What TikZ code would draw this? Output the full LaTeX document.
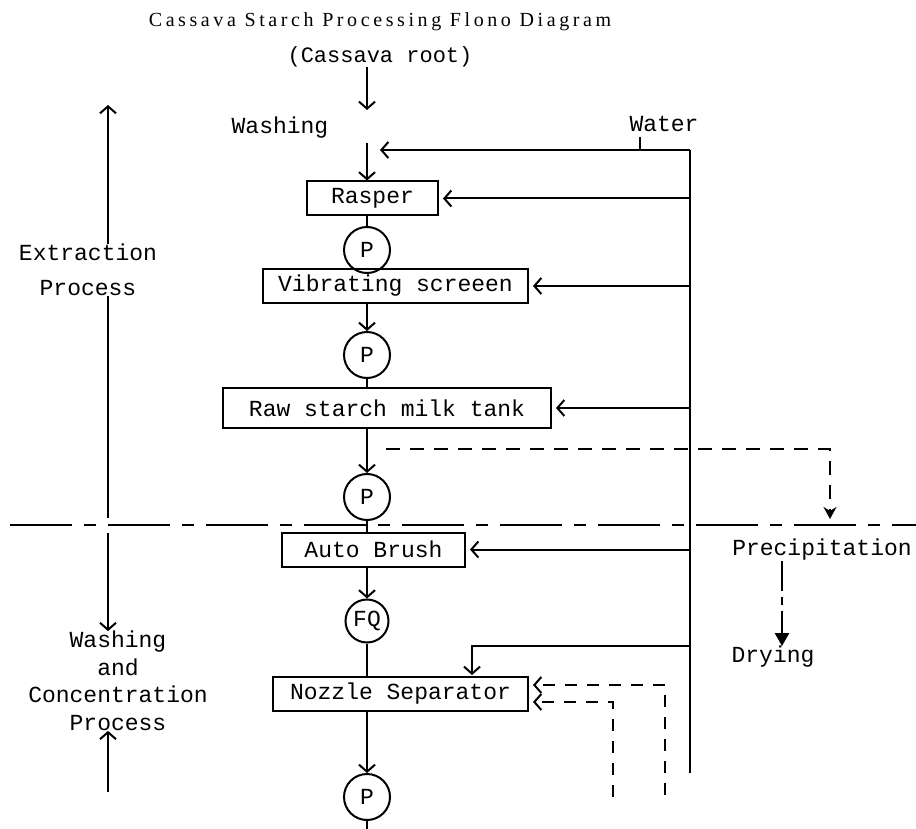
\documentclass[tikz,border=0pt]{standalone}
\usepackage{fontspec}
\setmonofont{Liberation Mono}
\newfontfamily\titlefont[LetterSpace=18]{Liberation Serif}
\usetikzlibrary{arrows.meta, positioning}
\newcommand{\flowfont}{\ttfamily\fontsize{23}{27}\selectfont}

\begin{document}
\begin{tikzpicture}[x=1pt, y=-1pt,
    unit/.style={draw, line width=2pt, font=\flowfont, minimum height=34pt, inner sep=0pt},
    pump/.style={draw, circle, line width=2pt, minimum size=46pt, inner sep=0pt, font=\flowfont},
    note/.style={font=\flowfont, inner sep=0pt},
    flow/.style={-{Straight Barb[length=7pt, width=16pt, line width=2pt]}, line width=2pt},
    recycle/.style={flow, line width=2.2pt, dash pattern=on 12pt off 10pt},
]
    \useasboundingbox (0,0) rectangle (916,829);

    % Title and feed
    \node[font=\titlefont\fontsize{20}{22}\selectfont, inner sep=0pt] (title) at (380,22) {Cassava Starch Processing Flono Diagram};
    \node[font=\ttfamily\fontsize{22}{26}\selectfont, inner sep=0pt] (root) at (380,57) {(Cassava root)};
    \node[note] (washing) at (280,128) {Washing};
    \node[note] (water) at (664,124) {Water};
    \coordinate (feed) at (367,110);
    \coordinate (washout) at (367,143);

    % Process units
    \node[unit, minimum width=131pt] (rasper) at (372.5,198.5) {Rasper};
    \node[pump] (pump1) at (367,250) {P};
    \node[unit, minimum width=265pt] (vscreen) at (395.5,286) {Vibrating screeen};
    \node[pump] (pump2) at (367,355) {P};
    \node[unit, minimum width=328pt, minimum height=40pt] (milktank) at (387,408) {Raw starch milk tank};
    \node[pump] (pump3) at (367,497) {P};
    \node[unit, minimum width=183pt] (brush) at (373.5,549.5) {Auto Brush};
    \node[pump, minimum size=43pt] (fq) at (367,621) {FQ};
    \node[unit, minimum width=255pt] (nozzle) at (400.5,694) {Nozzle Separator};
    \node[pump] (pump4) at (367,797) {P};
    \coordinate (outlet) at (367,829);

    % Main stream
    \draw[flow] (root.south -| feed) -- (feed);
    \draw[flow] (washout) -- (rasper.north -| washout);
    \draw[line width=2pt] (rasper.south -| pump1) -- (pump1.north);
    \draw[flow] (vscreen.south -| pump2) -- (pump2.north);
    \draw[line width=2pt] (pump2.south) -- (milktank.north -| pump2);
    \draw[flow] (milktank.south -| pump3) -- (pump3.north);
    \draw[line width=2pt] (pump3.south) -- (brush.north -| pump3);
    \draw[flow] (brush.south -| fq) -- (fq.north);
    \draw[line width=2pt] (fq.south) -- (nozzle.north -| fq);
    \draw[flow] (nozzle.south -| pump4) -- (pump4.north);
    \draw[line width=2pt] (pump4.south) -- (outlet);

    % Water supply
    \coordinate (wtop) at (690,150);
    \coordinate (wbot) at (690,773);
    \draw[line width=2.4pt] (wtop) -- (wbot);
    \draw[line width=2pt] (640,137) -- (640,150);
    \draw[flow] (wtop) -- ++(-310,0);
    \draw[flow, shorten >=4pt] (rasper.east -| wtop) -- (rasper.east);
    \draw[flow, shorten >=4pt] (vscreen.east -| wtop) -- (vscreen.east);
    \draw[flow, shorten >=4pt] (milktank.east -| wtop) -- (milktank.east);
    \draw[flow, shorten >=4pt] (brush.east -| wtop) -- (brush.east);
    \draw[flow, shorten >=1pt] (wtop |- 0,646) -| (nozzle.north -| 472,0);

    % Separator between the two stages
    \draw[line width=2.2pt, dash pattern=on 62pt off 12pt on 12pt off 12pt] (10,525) -- (916,525);

    % Settling branch
    \coordinate (split) at (386,449);
    \coordinate (settle) at (830,519);
    \draw[line width=2.2pt, dash pattern=on 14pt off 10pt, -{Stealth[length=12pt, width=13pt]}] (split) -| (settle);
    \node[note] (precip) at (822,550) {Precipitation};
    \node[note] (drying) at (773,657) {Drying};
    \draw[line width=2.4pt, dash pattern=on 30pt off 6pt on 8pt off 6pt, -{Triangle[length=13pt, width=14pt]}] (precip.south -| 782,0) -- (drying.north -| 782,0);

    % Recycle to the separator
    \coordinate (ret1) at (665,795);
    \coordinate (ret2) at (613,797);
    \draw[recycle, shorten >=4pt] (ret1) |- ([yshift=9pt]nozzle.east);
    \draw[recycle, shorten >=4pt] (ret2) |- ([yshift=-8pt]nozzle.east);

    % Stage labels
    \node[font=\ttfamily\fontsize{23}{35}\selectfont, align=center, inner sep=0pt] (extract) at (88,270) {Extraction\\Process};
    \node[font=\ttfamily\fontsize{23}{27.5}\selectfont, align=center, inner sep=0pt] (washconc) at (118,681) {Washing\\and\\Concentration\\Process};
    \draw[flow] (extract.north -| 108,0) -- (108,105);
    \draw[line width=2pt] (extract.south -| 108,0) -- (108,518);
    \draw[flow] (108,533) -- (washconc.north -| 108,0);
    \draw[flow] (108,792) -- (washconc.south -| 108,0);
\end{tikzpicture}
\end{document}
